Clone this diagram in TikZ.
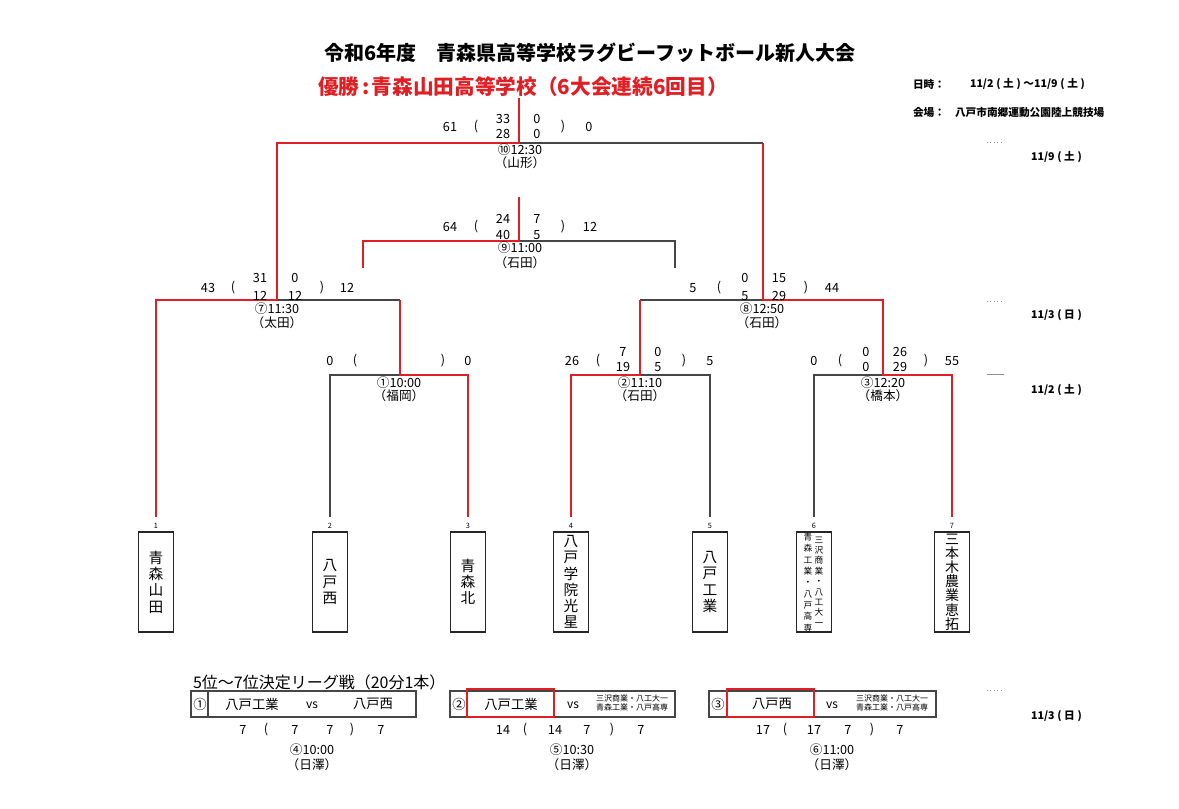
\documentclass[tikz,border=0pt]{standalone}
\usepackage{fontspec}
\setmainfont{Noto Sans CJK JP}
\definecolor{rd}{RGB}{225,30,35}
\definecolor{ln}{RGB}{70,70,70}
\newcommand{\pk}{\kern2pt}
\begin{document}
\begin{tikzpicture}[x=0.75pt,y=-0.75pt,
  every node/.style={inner sep=0pt,outer sep=0pt},
  redline/.style={draw=rd,line width=2pt},
  grayline/.style={draw=ln,line width=0.8pt},
  sc/.style={font=\fontsize{9.5}{10}\selectfont},
  lbl/.style={font=\fontsize{9.5}{10}\selectfont},
  tbox/.style={draw=black!85,line width=1.3pt,minimum width=26.25pt,minimum height=75pt,align=center},
  tname/.style={font=\fontsize{11}{12.2}\selectfont,align=center},
  tnum/.style={font=\fontsize{5.5}{6}\selectfont},
  info/.style={font=\bfseries\fontsize{8}{9}\selectfont,anchor=west},
  lgbox/.style={draw=ln,line width=1pt,minimum height=19.5pt},
  winbox/.style={draw=rd,line width=1.6pt,minimum height=21pt},
  lgname/.style={font=\fontsize{10}{11}\selectfont},
  small/.style={font=\fontsize{6}{7.2}\selectfont,align=center},
  dotmark/.style={draw=ln!60,line width=0.6pt,dotted}
]
\useasboundingbox (0,0) rectangle (1179,808);

% ---------- titles ----------
\node[font=\bfseries\fontsize{15}{16}\selectfont] (title) at (590,53) {令和6年度　青森県高等学校ラグビーフットボール新人大会};
\node[font=\bfseries\fontsize{15.5}{16}\selectfont,text=rd,anchor=west] (winner) at (318,87) {優勝\kern2pt:\kern2pt 青森山田高等学校（6大会連続6回目）};

\node[info] (dtl) at (913,84) {日時：};
\node[info] (dtv) at (970,84) {11/2\pk(\pk 土\pk)\pk～11/9\pk(\pk 土\pk)};
\node[info] (vnl) at (913,112) {会場：};
\node[info] (vnv) at (955,112) {八戸市南郷運動公園陸上競技場};

\coordinate (mk1a) at (987,142); \coordinate (mk1b) at (1004,142);
\coordinate (mk2a) at (987,301); \coordinate (mk2b) at (1004,301);
\coordinate (mk3a) at (987,374); \coordinate (mk3b) at (1004,374);
\coordinate (mk4a) at (987,690); \coordinate (mk4b) at (1004,690);
\draw[dotmark] (mk1a) -- (mk1b);
\draw[dotmark] (mk2a) -- (mk2b);
\draw[draw=ln!60,line width=0.6pt] (mk3a) -- (mk3b);
\draw[dotmark] (mk4a) -- (mk4b);
\node[info] (d1) at (1031,157) {11/9\pk(\pk 土\pk)};
\node[info] (d2) at (1031,315) {11/3\pk(\pk 日\pk)};
\node[info] (d3) at (1031,390) {11/2\pk(\pk 土\pk)};
\node[info] (d4) at (1031,716) {11/3\pk(\pk 日\pk)};

% ---------- team boxes ----------
\node[tbox] (b1) at (156,582) {};
\node[tbox] (b2) at (330,582) {};
\node[tbox] (b3) at (468,582) {};
\node[tbox] (b4) at (571,582) {};
\node[tbox] (b5) at (710,582) {};
\node[tbox] (b6) at (814,582) {};
\node[tbox] (b7) at (952,582) {};
\node[tname] (n1) at (b1) {青\\森\\山\\田};
\node[tname] (n2) at (b2) {八\\戸\\西};
\node[tname] (n3) at (b3) {青\\森\\北};
\node[tname] (n4) at (b4) {八\\戸\\学\\院\\光\\星};
\node[tname] (n5) at (b5) {八\\戸\\工\\業};
\node[font=\fontsize{6.5}{7.8}\selectfont,align=center] (n6a) at (819,581.5) {三\\沢\\商\\業\\・\\八\\工\\大\\一};
\node[font=\fontsize{6.5}{8.5}\selectfont,align=center] (n6b) at (808,582.5) {青\\森\\工\\業\\・\\八\\戸\\高\\専};
\node[font=\fontsize{10.5}{10.65}\selectfont,align=center] (n7) at (b7) {三\\本\\木\\農\\業\\恵\\拓};

\node[tnum] (k1) at (156,526) {1};
\node[tnum] (k2) at (330,526) {2};
\node[tnum] (k3) at (468,526) {3};
\node[tnum] (k4) at (571,526) {4};
\node[tnum] (k5) at (710,526) {5};
\node[tnum] (k6) at (814,526) {6};
\node[tnum] (k7) at (952,526) {7};

% ---------- bracket coordinates ----------
\coordinate (t1) at (156,517); \coordinate (t2) at (330,517);
\coordinate (t3) at (468,517); \coordinate (t4) at (571,517);
\coordinate (t5) at (710,517); \coordinate (t6) at (814,517);
\coordinate (t7) at (952,517);
\coordinate (m1L) at (330,375); \coordinate (m1C) at (400,375); \coordinate (m1R) at (468,375); \coordinate (m1T) at (400,300);
\coordinate (m2L) at (571,375); \coordinate (m2C) at (640,375); \coordinate (m2R) at (710,375); \coordinate (m2T) at (640,300);
\coordinate (m3L) at (814,375); \coordinate (m3C) at (883,375); \coordinate (m3R) at (952,375); \coordinate (m3T) at (883,300);
\coordinate (s7L) at (156,300); \coordinate (s7C) at (277,300); \coordinate (s7T) at (277,143);
\coordinate (s8C) at (763,300); \coordinate (s8T) at (763,143);
\coordinate (fC) at (519,143); \coordinate (fT) at (519,98);
\coordinate (g9a) at (363,268); \coordinate (g9L) at (363,241); \coordinate (g9C) at (519,241);
\coordinate (g9T) at (519,197); \coordinate (g9R) at (675,241); \coordinate (g9b) at (675,268);

% gray (losing) lines
\draw[grayline] (t2) -- (m1L) -- (m1C);
\draw[grayline] (t5) -- (m2R) -- (m2C);
\draw[grayline] (t6) -- (m3L) -- (m3C);
\draw[grayline] (s7C) -- (m1T);
\draw[grayline] (m2T) -- (s8C);
\draw[grayline] (fC) -- (s8T);
\draw[grayline] (g9C) -- (g9R) -- (g9b);

% red (winning) lines
\draw[redline] (t1) -- (s7L) -- (s7C) -- (s7T) -- (fC) -- (fT);
\draw[redline] (t3) -- (m1R) -- (m1C) -- (m1T);
\draw[redline] (t4) -- (m2L) -- (m2C) -- (m2T);
\draw[redline] (t7) -- (m3R) -- (m3C) -- (m3T) -- (s8C) -- (s8T);
\draw[redline] (g9a) -- (g9L) -- (g9C) -- (g9T);

% ---------- scores : final ----------
\node[sc] (f1) at (450,127) {61};
\node[sc] (f2) at (476,127) {(};
\node[sc] (f3) at (503,119) {33};
\node[sc] (f4) at (503,134) {28};
\node[sc] (f5) at (537,119) {0};
\node[sc] (f6) at (537,134) {0};
\node[sc] (f7) at (563,127) {)};
\node[sc] (f8) at (589,127) {0};
\node[lbl] (fl1) at (520,150) {⑩12:30};
\node[lbl] (fl2) at (520,163) {（山形）};

% match 9
\node[sc] (c1) at (450,227) {64};
\node[sc] (c2) at (476,227) {(};
\node[sc] (c3) at (503,219) {24};
\node[sc] (c4) at (503,235) {40};
\node[sc] (c5) at (537,219) {7};
\node[sc] (c6) at (537,235) {5};
\node[sc] (c7) at (563,227) {)};
\node[sc] (c8) at (590,227) {12};
\node[lbl] (cl1) at (520,248) {⑨11:00};
\node[lbl] (cl2) at (520,263) {（石田）};

% match 7
\node[sc] (a1) at (208,288) {43};
\node[sc] (a2) at (233,288) {(};
\node[sc] (a3) at (260,278) {31};
\node[sc] (a4) at (260,296) {12};
\node[sc] (a5) at (295,278) {0};
\node[sc] (a6) at (295,296) {12};
\node[sc] (a7) at (322,288) {)};
\node[sc] (a8) at (347,288) {12};
\node[lbl] (al1) at (277,309) {⑦11:30};
\node[lbl] (al2) at (277,323) {（太田）};

% match 8
\node[sc] (e1) at (693,288) {5};
\node[sc] (e2) at (719,288) {(};
\node[sc] (e3) at (745,278) {0};
\node[sc] (e4) at (745,296) {5};
\node[sc] (e5) at (779,278) {15};
\node[sc] (e6) at (779,296) {29};
\node[sc] (e7) at (806,288) {)};
\node[sc] (e8) at (832,288) {44};
\node[lbl] (el1) at (762,309) {⑧12:50};
\node[lbl] (el2) at (762,323) {（石田）};

% match 1
\node[sc] (p1) at (330,361) {0};
\node[sc] (p2) at (355,361) {(};
\node[sc] (p3) at (443,361) {)};
\node[sc] (p4) at (468,361) {0};
\node[lbl] (pl1) at (399,383) {①10:00};
\node[lbl] (pl2) at (399,396) {（福岡）};

% match 2
\node[sc] (q1) at (572,361) {26};
\node[sc] (q2) at (598,361) {(};
\node[sc] (q3) at (623,352) {7};
\node[sc] (q4) at (623,367) {19};
\node[sc] (q5) at (658,352) {0};
\node[sc] (q6) at (658,367) {5};
\node[sc] (q7) at (684,361) {)};
\node[sc] (q8) at (710,361) {5};
\node[lbl] (ql1) at (640,383) {②11:10};
\node[lbl] (ql2) at (640,396) {（石田）};

% match 3
\node[sc] (r1) at (814,361) {0};
\node[sc] (r2) at (840,361) {(};
\node[sc] (r3) at (866,352) {0};
\node[sc] (r4) at (866,367) {0};
\node[sc] (r5) at (900,352) {26};
\node[sc] (r6) at (900,367) {29};
\node[sc] (r7) at (926,361) {)};
\node[sc] (r8) at (952,361) {55};
\node[lbl] (rl1) at (883,383) {③12:20};
\node[lbl] (rl2) at (883,396) {（橋本）};

% ---------- league ----------
\node[font=\fontsize{12}{13}\selectfont,anchor=west] (lgt) at (193,682) {5位～7位決定リーグ戦（20分1本）};

\node[lgbox,minimum width=168.75pt] (lg1) at (303.5,704) {};
\node[lgbox,minimum width=168.75pt] (lg2) at (562.5,704) {};
\node[lgbox,minimum width=170.25pt] (lg3) at (822.5,704) {};
\coordinate (dv1a) at (208,691); \coordinate (dv1b) at (208,717);
\coordinate (dv2a) at (467,691); \coordinate (dv2b) at (467,717);
\coordinate (dv3a) at (727,691); \coordinate (dv3b) at (727,717);
\draw[draw=ln,line width=1pt] (dv1a) -- (dv1b);
\draw[draw=ln,line width=1pt] (dv2a) -- (dv2b);
\draw[draw=ln,line width=1pt] (dv3a) -- (dv3b);
\node[winbox,minimum width=65.25pt] (w2) at (510.5,703) {};
\node[winbox,minimum width=65.25pt] (w3) at (770.5,703) {};

\node[lgname] (o1) at (200,704) {①};
\node[lgname] (o1a) at (252,704) {八戸工業};
\node[font=\fontsize{9}{10}\selectfont] (v1) at (312,705) {vs};
\node[lgname] (o1b) at (373,704) {八戸西};

\node[lgname] (o2) at (459,704) {②};
\node[lgname] (o2a) at (511,704) {八戸工業};
\node[font=\fontsize{9}{10}\selectfont] (v2) at (573,705) {vs};
\node[small] (o2b) at (632,703) {三沢商業・八工大一\\青森工業・八戸高専};

\node[lgname] (o3) at (718,704) {③};
\node[lgname] (o3a) at (772,704) {八戸西};
\node[font=\fontsize{9}{10}\selectfont] (v3) at (832,705) {vs};
\node[small] (o3b) at (892,703) {三沢商業・八工大一\\青森工業・八戸高専};

\node[sc] (x1) at (243,730) {7};
\node[sc] (x2) at (266,730) {(};
\node[sc] (x3) at (295,730) {7};
\node[sc] (x4) at (330,730) {7};
\node[sc] (x5) at (352,730) {)};
\node[sc] (x6) at (381,730) {7};
\node[lbl] (xl1) at (312,750) {④10:00};
\node[lbl] (xl2) at (312,765) {（日澤）};

\node[sc] (y1) at (503,730) {14};
\node[sc] (y2) at (525,730) {(};
\node[sc] (y3) at (555,730) {14};
\node[sc] (y4) at (587,730) {7};
\node[sc] (y5) at (612,730) {)};
\node[sc] (y6) at (641,730) {7};
\node[lbl] (yl1) at (572,750) {⑤10:30};
\node[lbl] (yl2) at (572,765) {（日澤）};

\node[sc] (z1) at (763,730) {17};
\node[sc] (z2) at (785,730) {(};
\node[sc] (z3) at (814,730) {17};
\node[sc] (z4) at (848,730) {7};
\node[sc] (z5) at (872,730) {)};
\node[sc] (z6) at (900,730) {7};
\node[lbl] (zl1) at (832,750) {⑥11:00};
\node[lbl] (zl2) at (832,765) {（日澤）};
\end{tikzpicture}
\end{document}
